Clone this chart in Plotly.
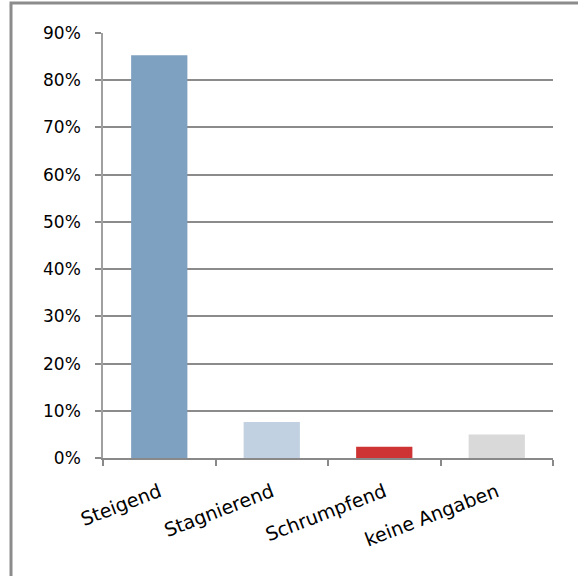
import plotly.graph_objects as go

categories = ["Steigend", "Stagnierend", "Schrumpfend", "keine Angaben"]
values = [0.853, 0.076, 0.024, 0.050]
colors = ["#7FA1C1", "#C1D1E1", "#CE3434", "#D9D9D9"]
tick_vals = [0, 0.1, 0.2, 0.3, 0.4, 0.5, 0.6, 0.7, 0.8, 0.9]
tick_text = ["0%", "10%", "20%", "30%", "40%", "50%", "60%", "70%", "80%", "90%"]

W, H = 578, 576
L, R, T, B = 103, 25, 33, 118
pw, ph = W - L - R, H - T - B

fig = go.Figure(go.Bar(x=categories, y=values, marker=dict(color=colors, line=dict(width=0)),
                       width=0.5, hoverinfo="skip"))

grid = "rgba(90,90,90,0.7)"
fig.update_layout(
    width=W, height=H,
    margin=dict(l=L, r=R, t=T, b=B, pad=0),
    paper_bgcolor="white", plot_bgcolor="white",
    font=dict(family="DejaVu Sans, sans-serif", size=17, color="#000000"),
    showlegend=False,
    bargap=0.5,
    xaxis=dict(type="category", tickson="boundaries", ticks="outside", ticklen=6,
               tickcolor="#898989", tickwidth=1.5, showline=True, linecolor="#898989",
               linewidth=1.5, showgrid=False, tickangle=-21, ticklabelstandoff=14,
               tickfont=dict(size=19)),
    yaxis=dict(range=[0, 0.9], tickvals=tick_vals, ticktext=tick_text, ticks="outside",
               ticklen=6, tickcolor="#898989", tickwidth=1.5, showgrid=True, gridcolor=grid,
               gridwidth=1.5, showline=True, linecolor="#A0A0A0", linewidth=1.5,
               zeroline=False, layer="above traces", tickfont=dict(size=17), ticklabelstandoff=11),
)

# outer frame
x0 = (11 - L) / pw
x1 = (W + 20 - L) / pw
y1 = 1 + (T - 3) / ph
y0 = -(B + 20) / ph
fig.add_shape(type="rect", xref="paper", yref="paper", x0=x0, x1=x1, y0=y0, y1=y1,
              line=dict(color="#8C8C8C", width=3), fillcolor="rgba(0,0,0,0)", layer="below")

fig.write_html("out.html", config={"displayModeBar": False},
               post_script="document.body.style.margin='0';")
